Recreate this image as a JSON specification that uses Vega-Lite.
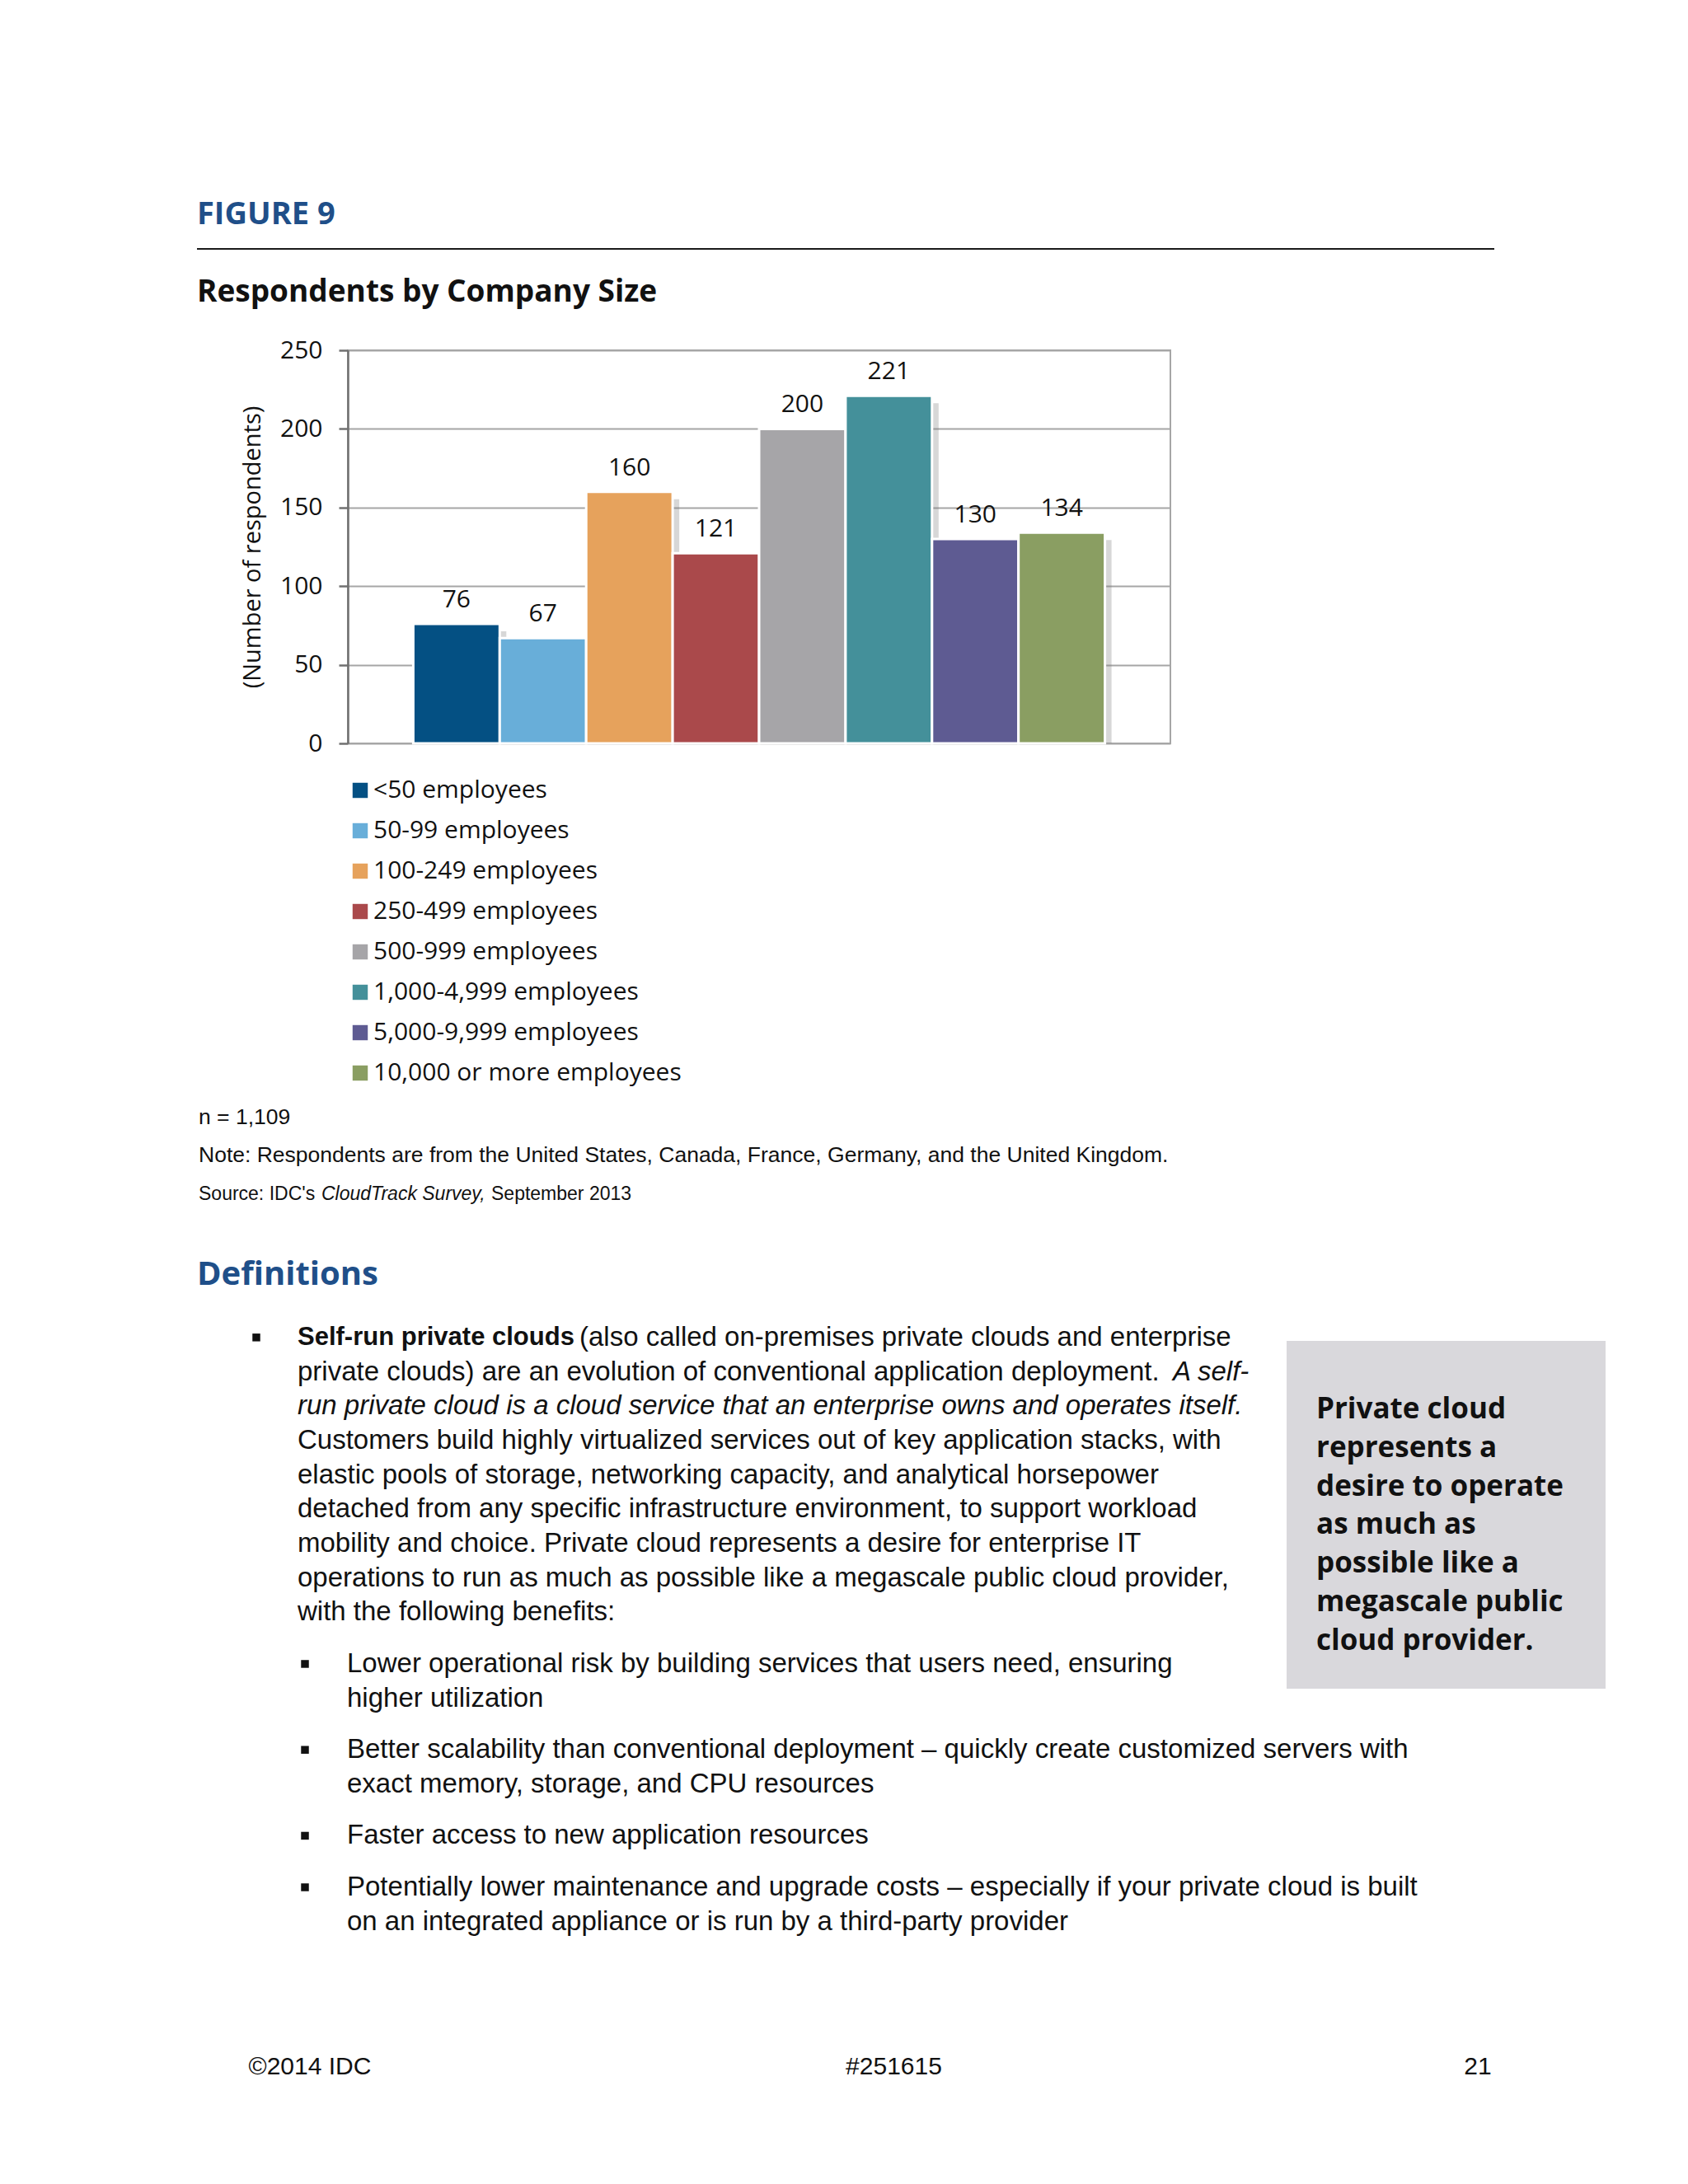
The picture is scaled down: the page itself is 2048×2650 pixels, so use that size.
{
  "$schema": "https://vega.github.io/schema/vega-lite/v6.json",
  "background": "#ffffff",
  "padding": {"left": 238, "top": 242, "right": 20, "bottom": 10},
  "columns": 1,
  "align": "none",
  "bounds": "full",
  "spacing": 0,
  "resolve": {"scale": {"color": "independent"}, "legend": {"color": "independent"}},
  "concat": [
    {
      "width": 1391,
      "height": 33,
      "title": {"text": "FIGURE 9", "font": "Open Sans", "fontSize": 38, "fontWeight": "bold", "color": "#1f4f89", "offset": 21, "dx": -183},
      "data": {"values": [{"part": "header rule"}]},
      "mark": {"type": "rule", "color": "#1a1a1a", "strokeWidth": 2},
      "encoding": {"x": {"value": -183}, "x2": {"value": "width"}, "y": {"value": 0}}
    },
    {
      "width": 998,
      "height": 477,
      "title": {"text": "Respondents by Company Size", "font": "Open Sans", "fontSize": 37, "fontWeight": "bold", "color": "#111111", "dx": -183, "offset": 36},
      "view": {"stroke": "#a6a6a6", "strokeWidth": 2},
      "data": {
        "values": [
          {"size": "<50 employees", "respondents": 76},
          {"size": "50-99 employees", "respondents": 67},
          {"size": "100-249 employees", "respondents": 160},
          {"size": "250-499 employees", "respondents": 121},
          {"size": "500-999 employees", "respondents": 200},
          {"size": "1,000-4,999 employees", "respondents": 221},
          {"size": "5,000-9,999 employees", "respondents": 130},
          {"size": "10,000 or more employees", "respondents": 134}
        ]
      },
      "encoding": {
        "x": {"field": "size", "type": "nominal", "sort": null, "axis": null, "scale": {"paddingInner": 0, "paddingOuter": 0.757}},
        "y": {
          "field": "respondents",
          "type": "quantitative",
          "scale": {"domain": [0, 250], "nice": false},
          "axis": {
            "values": [0, 50, 100, 150, 200, 250],
            "grid": true,
            "gridColor": "#a6a6a6",
            "gridWidth": 2,
            "domainColor": "#707070",
            "domainWidth": 2.5,
            "tickColor": "#707070",
            "tickWidth": 2.5,
            "tickSize": 11,
            "labelFont": "Open Sans",
            "labelFontSize": 30,
            "labelColor": "#111111",
            "labelPadding": 20,
            "title": "(Number of respondents)",
            "titleFont": "Open Sans",
            "titleFontSize": 29,
            "titleFontWeight": "normal",
            "titleColor": "#111111",
            "titlePadding": 18
          }
        }
      },
      "layer": [
        {
          "mark": {"type": "bar", "color": "#7a7a7a", "opacity": 0.3, "xOffset": 8, "yOffset": 9, "clip": true}
        },
        {
          "mark": {"type": "bar", "stroke": "#ffffff", "strokeWidth": 3},
          "encoding": {
            "color": {
              "field": "size",
              "type": "nominal",
              "sort": null,
              "scale": {
                "domain": ["<50 employees", "50-99 employees", "100-249 employees", "250-499 employees", "500-999 employees", "1,000-4,999 employees", "5,000-9,999 employees", "10,000 or more employees"],
                "range": ["#045083", "#68aed9", "#e6a25c", "#aa494b", "#a6a5a8", "#44909a", "#5e5b92", "#8a9e62"]
              },
              "legend": {
                "title": null,
                "orient": "bottom",
                "offset": 42,
                "direction": "vertical",
                "columns": 1,
                "padding": 0,
                "symbolType": "square",
                "symbolSize": 340,
                "symbolStrokeWidth": 0,
                "labelFont": "Open Sans",
                "labelFontSize": 30,
                "labelColor": "#111111",
                "labelOffset": 1,
                "labelLimit": 700,
                "rowPadding": 19
              }
            }
          }
        },
        {
          "mark": {"type": "text", "baseline": "alphabetic", "dy": -20, "font": "Open Sans", "fontSize": 30, "color": "#111111"},
          "encoding": {"text": {"field": "respondents", "type": "quantitative"}}
        }
      ]
    },
    {
      "width": 1300,
      "height": 209,
      "encoding": {
        "y": {"field": "row", "type": "quantitative", "axis": null, "scale": {"domain": [-0.817, 3.678], "reverse": true, "nice": false, "zero": false}},
        "x": {"value": -181},
        "text": {"field": "text", "type": "nominal"}
      },
      "layer": [
        {
          "data": {"values": [
            {"row": 0, "text": "n = 1,109"},
            {"row": 1, "text": "Note: Respondents are from the United States, Canada, France, Germany, and the United Kingdom."}
          ]},
          "mark": {"type": "text", "align": "left", "baseline": "middle", "font": "Liberation Sans", "fontSize": 26.5, "color": "#111111"}
        },
        {
          "data": {"values": [{"row": 2, "text": "Source: IDC's"}]},
          "mark": {"type": "text", "align": "left", "baseline": "middle", "font": "Liberation Sans", "fontSize": 23, "color": "#111111"}
        },
        {
          "data": {"values": [{"row": 2, "text": "CloudTrack Survey,"}]},
          "mark": {"type": "text", "align": "left", "baseline": "middle", "font": "Liberation Sans", "fontSize": 23, "fontStyle": "italic", "dx": 149, "color": "#111111"}
        },
        {
          "data": {"values": [{"row": 2, "text": "September 2013"}]},
          "mark": {"type": "text", "align": "left", "baseline": "middle", "font": "Liberation Sans", "fontSize": 23, "dx": 355, "color": "#111111"}
        }
      ]
    },
    {
      "hconcat": [
        {
          "width": 1119,
          "height": 704.7,
          "title": {"text": "Definitions", "font": "Open Sans", "fontSize": 40, "fontWeight": "bold", "color": "#1f4f89", "offset": 39.5, "dx": -183},
          "encoding": {
            "y": {"field": "row", "type": "quantitative", "axis": null, "scale": {"domain": [0.1, 17], "reverse": true, "nice": false, "zero": false}}
          },
          "layer": [
            {
              "data": {"values": [{"row": 0, "item": "main"}]},
              "mark": {"type": "point", "shape": "square", "filled": true, "size": 90, "color": "#111111", "opacity": 1},
              "encoding": {"x": {"value": -111}}
            },
            {
              "data": {"values": [{"row": 9.5, "item": "sub"}, {"row": 12, "item": "sub"}, {"row": 14.5, "item": "sub"}, {"row": 16, "item": "sub"}]},
              "mark": {"type": "point", "shape": "square", "filled": true, "size": 90, "color": "#111111", "opacity": 1},
              "encoding": {"x": {"value": -52}}
            },
            {
              "data": {"values": [{"row": 0, "text": "Self-run private clouds"}]},
              "mark": {"type": "text", "align": "left", "baseline": "middle", "font": "Liberation Sans", "fontSize": 31, "fontWeight": "bold", "color": "#111111"},
              "encoding": {"x": {"value": -61}, "text": {"field": "text", "type": "nominal"}}
            },
            {
              "data": {"values": [{"row": 0, "text": "(also called on-premises private clouds and enterprise"}]},
              "mark": {"type": "text", "align": "left", "baseline": "middle", "font": "Liberation Sans", "fontSize": 33, "dx": 342, "color": "#111111"},
              "encoding": {"x": {"value": -61}, "text": {"field": "text", "type": "nominal"}}
            },
            {
              "data": {"values": [
                {"row": 1, "text": "private clouds) are an evolution of conventional application deployment."},
                {"row": 3, "text": "Customers build highly virtualized services out of key application stacks, with"},
                {"row": 4, "text": "elastic pools of storage, networking capacity, and analytical horsepower"},
                {"row": 5, "text": "detached from any specific infrastructure environment, to support workload"},
                {"row": 6, "text": "mobility and choice. Private cloud represents a desire for enterprise IT"},
                {"row": 7, "text": "operations to run as much as possible like a megascale public cloud provider,"},
                {"row": 8, "text": "with the following benefits:"}
              ]},
              "mark": {"type": "text", "align": "left", "baseline": "middle", "font": "Liberation Sans", "fontSize": 33, "color": "#111111"},
              "encoding": {"x": {"value": -61}, "text": {"field": "text", "type": "nominal"}}
            },
            {
              "data": {"values": [{"row": 1, "text": "A self-"}]},
              "mark": {"type": "text", "align": "left", "baseline": "middle", "font": "Liberation Sans", "fontSize": 33, "fontStyle": "italic", "dx": 1062, "color": "#111111"},
              "encoding": {"x": {"value": -61}, "text": {"field": "text", "type": "nominal"}}
            },
            {
              "data": {"values": [{"row": 2, "text": "run private cloud is a cloud service that an enterprise owns and operates itself."}]},
              "mark": {"type": "text", "align": "left", "baseline": "middle", "font": "Liberation Sans", "fontSize": 33, "fontStyle": "italic", "color": "#111111"},
              "encoding": {"x": {"value": -61}, "text": {"field": "text", "type": "nominal"}}
            },
            {
              "data": {"values": [
                {"row": 9.5, "text": "Lower operational risk by building services that users need, ensuring"},
                {"row": 10.5, "text": "higher utilization"},
                {"row": 12, "text": "Better scalability than conventional deployment – quickly create customized servers with"},
                {"row": 13, "text": "exact memory, storage, and CPU resources"},
                {"row": 14.5, "text": "Faster access to new application resources"},
                {"row": 16, "text": "Potentially lower maintenance and upgrade costs – especially if your private cloud is built"},
                {"row": 17, "text": "on an integrated appliance or is run by a third-party provider"}
              ]},
              "mark": {"type": "text", "align": "left", "baseline": "middle", "font": "Liberation Sans", "fontSize": 33, "color": "#111111"},
              "encoding": {"x": {"value": -1}, "text": {"field": "text", "type": "nominal"}}
            }
          ]
        },
        {
          "width": 387,
          "height": 422,
          "view": {"fill": "#d9d8dc", "stroke": null},
          "data": {"values": [
            {"row": 0, "text": "Private cloud"},
            {"row": 1, "text": "represents a"},
            {"row": 2, "text": "desire to operate"},
            {"row": 3, "text": "as much as"},
            {"row": 4, "text": "possible like a"},
            {"row": 5, "text": "megascale public"},
            {"row": 6, "text": "cloud provider."}
          ]},
          "mark": {"type": "text", "align": "left", "baseline": "alphabetic", "font": "Open Sans", "fontSize": 35, "fontWeight": "bold", "color": "#111111"},
          "encoding": {
            "x": {"value": 36},
            "y": {"field": "row", "type": "quantitative", "axis": null, "scale": {"domain": [-2.009, 7.008], "reverse": true, "nice": false, "zero": false}},
            "text": {"field": "text", "type": "nominal"}
          }
        }
      ],
      "bounds": "flush",
      "spacing": 20
    },
    {
      "width": 1300,
      "height": 159,
      "data": {"values": [
        {"pos": "left", "row": 0, "text": "©2014 IDC"},
        {"pos": "center", "row": 0, "text": "#251615"},
        {"pos": "right", "row": 0, "text": "21"}
      ]},
      "mark": {"type": "text", "align": "center", "baseline": "middle", "font": "Liberation Sans", "fontSize": 30, "color": "#111111"},
      "encoding": {
        "x": {"field": "pos", "type": "ordinal", "axis": null, "sort": ["left", "center", "right"], "scale": {"type": "point", "padding": 0, "range": [-46, 1371]}},
        "y": {"field": "row", "type": "quantitative", "axis": null, "scale": {"domain": [0, 1], "zero": false, "nice": false}},
        "text": {"field": "text", "type": "nominal"}
      }
    }
  ],
  "config": {
    "view": {"stroke": null},
    "font": "Open Sans",
    "title": {"anchor": "start", "frame": "group", "baseline": "alphabetic"}
  }
}
